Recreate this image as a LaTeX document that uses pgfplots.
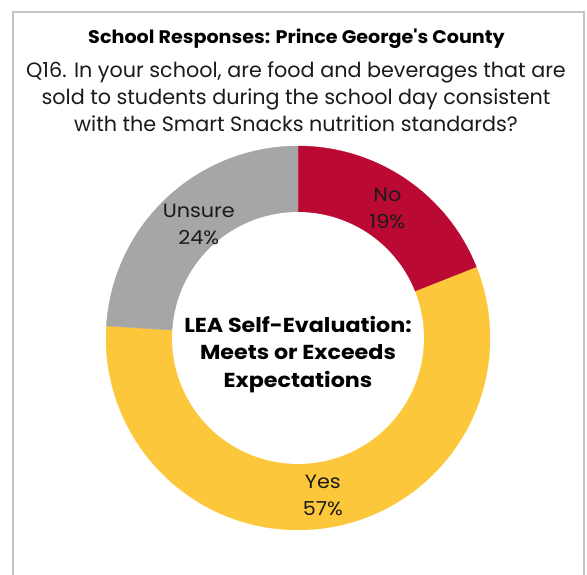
\documentclass[border=0pt]{standalone}
\usepackage{pgfplots}
\pgfplotsset{compat=1.18}
\usepackage{pgfplotstable}
\usepackage{fontspec}
\setmainfont{Poppins}
\newfontfamily\popA{Poppins}[FakeStretch=1.05]
\newfontfamily\popB{Poppins}[FakeStretch=1.10]
\newfontfamily\popC{Poppins}[FakeStretch=1.08]
\definecolor{noRed}{HTML}{BA0A33}
\definecolor{yesYellow}{HTML}{FCC73A}
\definecolor{unsGray}{HTML}{A6A6A6}
\definecolor{frameGray}{HTML}{C4C4C4}
\definecolor{txt}{HTML}{1A1A1A}

\pgfplotstableread{
label value
No 19
Yes 57
Unsure 24
}\donutdata

\begin{document}
\begin{tikzpicture}
\path[use as bounding box] (0bp,0bp) rectangle (587bp,575bp);
\draw[frameGray, line width=2.5bp] (13bp,0bp) -- (13bp,563bp) -- (584bp,563bp) -- (584bp,0bp);
\node[text=black, font=\popA\bfseries\fontsize{18.3}{21}\selectfont] at (296.5bp,536bp) {School Responses: Prince George's County};
\node[align=center, text=txt, font=\fontsize{20.8}{27}\selectfont] at (296bp,478bp) {Q16. In your school, are food and beverages that are\\sold to students during the school day consistent\\with the Smart Snacks nutrition standards?};

\pgfplotstablegetelem{0}{value}\of\donutdata \let\vNo\pgfplotsretval
\pgfplotstablegetelem{1}{value}\of\donutdata \let\vYes\pgfplotsretval
\pgfplotstablegetelem{2}{value}\of\donutdata \let\vUns\pgfplotsretval
\pgfmathsetmacro{\aA}{90}
\pgfmathsetmacro{\aB}{90-3.6*\vNo}
\pgfmathsetmacro{\aC}{\aB-3.6*\vYes}
\pgfmathsetmacro{\aD}{\aC-3.6*\vUns}
\pgfmathsetmacro{\mNo}{(\aA+\aB)/2}
\pgfmathsetmacro{\mYes}{(\aB+\aC)/2}
\pgfmathsetmacro{\mUns}{(\aC+\aD)/2}
\def\rin{0.656}
\def\rlab{0.828}

\begin{axis}[at={(298bp,237bp)}, anchor=center, x=192bp, y=192bp,
  xmin=-1.1, xmax=1.1, ymin=-1.1, ymax=1.1, hide axis, clip=false]
\addplot[fill=noRed, draw=noRed, line width=0.3bp, domain=\aB:\aA, samples=80, variable=\t] ({cos(\t)},{sin(\t)}) -- (axis cs:0,0) -- cycle;
\addplot[fill=yesYellow, draw=yesYellow, line width=0.3bp, domain=\aC:\aB, samples=160, variable=\t] ({cos(\t)},{sin(\t)}) -- (axis cs:0,0) -- cycle;
\addplot[fill=unsGray, draw=unsGray, line width=0.3bp, domain=\aD:\aC, samples=80, variable=\t] ({cos(\t)},{sin(\t)}) -- (axis cs:0,0) -- cycle;
\addplot[fill=white, draw=none, domain=0:360, samples=200, variable=\t] ({\rin*cos(\t)},{\rin*sin(\t)}) -- cycle;
\node[align=center, text=txt, font=\popC\fontsize{19.3}{27}\selectfont] at (axis cs:{\rlab*cos(\mNo)},{\rlab*sin(\mNo)-0.01}) {No\\19\%};
\node[align=center, text=txt, font=\popC\fontsize{19.3}{27}\selectfont] at (axis cs:{\rlab*cos(\mYes)},{\rlab*sin(\mYes)}) {Yes\\57\%};
\node[align=center, text=txt, font=\popC\fontsize{19.3}{27}\selectfont] at (axis cs:{\rlab*cos(\mUns)+0.05},{\rlab*sin(\mUns)-0.01}) {Unsure\\24\%};
\node[align=center, text=black, font=\popB\bfseries\fontsize{20.3}{27.7}\selectfont] at (axis cs:0,-0.085) {LEA Self-Evaluation:\\Meets or Exceeds\\Expectations};
\end{axis}
\end{tikzpicture}
\end{document}
